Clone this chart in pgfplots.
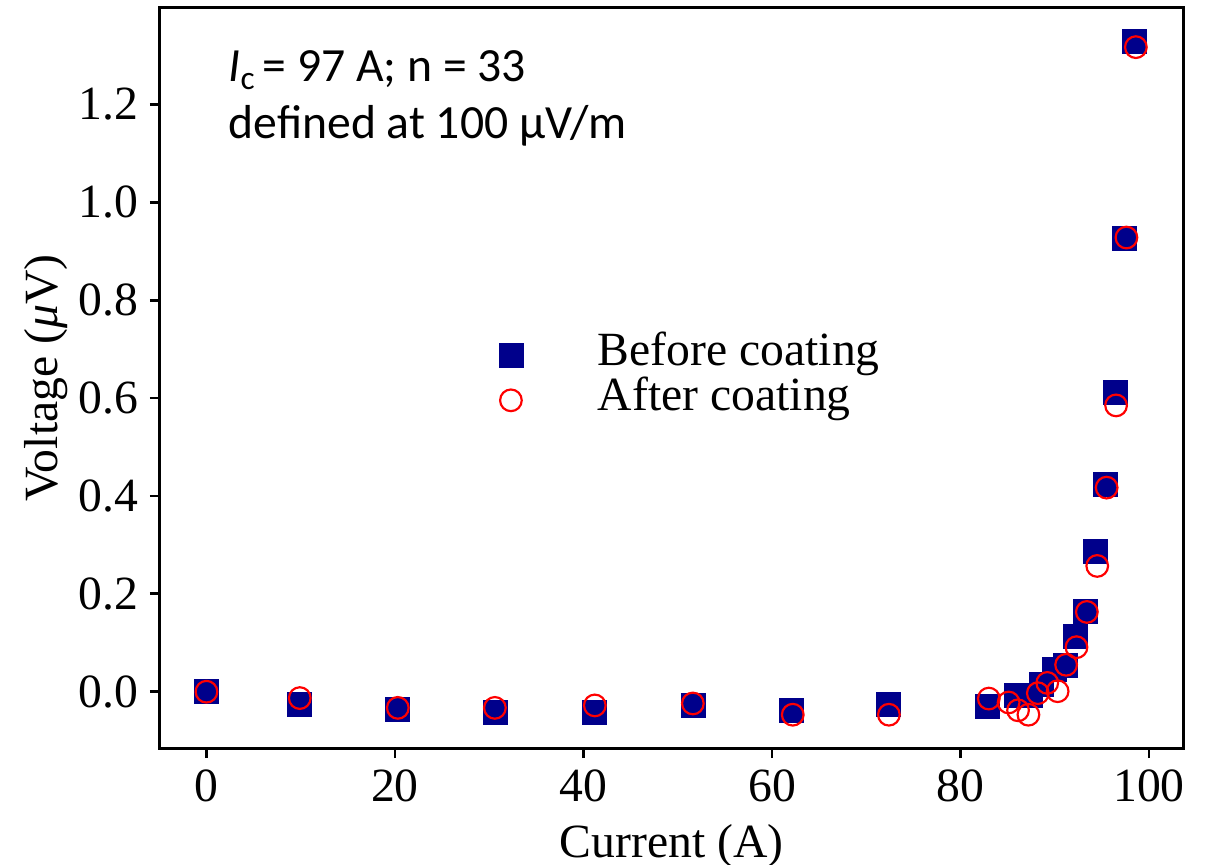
\documentclass[border=0pt]{standalone}
\usepackage{fontspec}
\setmainfont{Liberation Serif}
\newfontfamily\calibri{Carlito}
\usepackage{pgfplots}
\pgfplotsset{compat=1.18}
\definecolor{navyb}{RGB}{0,0,139}
\definecolor{redc}{RGB}{255,0,0}
\begin{document}
\begin{tikzpicture}
\begin{axis}[
  scale only axis,
  width=306.9pt, height=222pt,
  xmin=-4.93, xmax=103.6,
  ymin=-0.115, ymax=1.397,
  xtick={0,20,40,60,80,100},
  ytick={0,0.2,0.4,0.6,0.8,1.0,1.2},
  yticklabel style={/pgf/number format/.cd,fixed,fixed zerofill,precision=1},
  /pgf/number format/assume math mode=true,
  tick align=outside,
  xtick pos=left, ytick pos=left,
  major tick length=3pt,
  every tick/.style={black, line width=0.8pt},
  axis line style={line width=0.9pt},
  tick label style={font=\fontsize{14.3}{16}\selectfont},
  label style={font=\fontsize{14.3}{16}\selectfont},
  xlabel={Current (A)},
  ylabel={Voltage ({\itshape μ}V)},
  ylabel shift=-3.6pt,
  legend style={draw=none, fill=none, inner sep=0pt, font=\fontsize{14.3}{16}\selectfont,
    at={(rel axis cs:0.330,0.500)}, anchor=west,
    nodes={inner sep=0.1pt, text height=9.6pt, text depth=3.6pt}, row sep=0pt},
  legend cell align=left,
  legend image code/.code={\path (-3.6pt,0pt) (25.8pt,0pt); \draw[#1] plot coordinates {(0pt,0pt)};},
]
\addplot[only marks, mark=square*, mark size=3.6pt, color=navyb, mark options={fill=navyb, draw=navyb, line width=0.2pt}] coordinates {
(0,0) (9.8,-0.025) (20.2,-0.035) (30.6,-0.042) (41.1,-0.043) (51.6,-0.028)
(62.0,-0.039) (72.3,-0.025) (82.8,-0.029) (85.9,-0.008) (87.4,-0.008)
(88.6,0.016) (90.0,0.045) (91.1,0.053) (92.2,0.113) (93.2,0.165)
(94.3,0.287) (95.4,0.424) (96.4,0.611) (97.4,0.926) (98.4,1.328)
};
\addlegendentry{Before coating}
\addplot[only marks, mark=o, mark size=3.25pt, color=redc, mark options={line width=0.65pt, fill=none}] coordinates {
(0,0) (9.9,-0.013) (20.3,-0.033) (30.6,-0.033) (41.2,-0.028) (51.6,-0.024)
(62.2,-0.047) (72.4,-0.047) (83.0,-0.014) (85.1,-0.022) (86.1,-0.038)
(87.2,-0.047) (88.2,-0.003) (89.2,0.018) (90.3,0.001) (91.2,0.055)
(92.3,0.091) (93.4,0.163) (94.5,0.257) (95.5,0.417) (96.5,0.585)
(97.6,0.928) (98.6,1.317)
};
\addlegendentry{After coating}
\node[anchor=base west, inner sep=0pt, font=\calibri\fontsize{14.3}{16.8}\selectfont] at (rel axis cs:0.0665,0.90)
  {\textit{I}\raisebox{-2.2pt}{\fontsize{10}{11}\selectfont c}\,= 97 A; n = 33};
\node[anchor=base west, inner sep=0pt, font=\calibri\fontsize{14.3}{16.8}\selectfont] at (rel axis cs:0.0665,0.8243)
  {defined at 100 μV/m};
\end{axis}
\pgfresetboundingbox
\path[use as bounding box] ([shift={(-48pt,-35.1pt)}]current axis.south west) rectangle ([shift={(6.6pt,2.4pt)}]current axis.north east);
\end{tikzpicture}
\end{document}
